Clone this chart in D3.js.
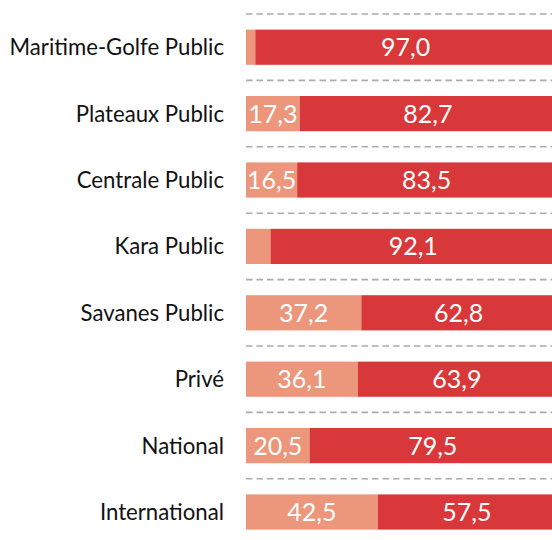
<!DOCTYPE html>
<html>
<head>
<meta charset="utf-8">
<script src="https://cdn.jsdelivr.net/npm/d3@7"></script>
<style>
  body { margin: 0; background: #fff; }
  svg { display: block; }
</style>
</head>
<body>
<div id="app"></div>
<script>
const categories = ["Maritime-Golfe Public", "Plateaux Public", "Centrale Public", "Kara Public",
  "Savanes Public", "Privé", "National", "International"];
const lowValues = [3.0, 17.3, 16.5, 7.9, 37.2, 36.1, 20.5, 42.5];
const highValues = [97.0, 82.7, 83.5, 92.1, 62.8, 63.9, 79.5, 57.5];
// small segments carry no label in the picture
const showLow = [false, true, true, false, true, true, true, true];

let width = 552,
  height = 540;

const colors = { low: "#ec967b", high: "#d9383a" },
  gridColor = "#ababab",
  fontFamily = "'Gill Sans', 'Lato', sans-serif";

const x = d3.scaleLinear().domain([0, 100]).range([246, 556]);
const y = d3.scaleBand()
  .domain(categories)
  .range([14, 545.2])
  .paddingInner(0.47)
  .paddingOuter(0.235);

const rows = categories.map((c, i) => ({
  name: c,
  low: lowValues[i],
  high: highValues[i],
  showLow: showLow[i]
}));

const svg = d3.select("#app")
  .append("svg")
  .attr("width", width)
  .attr("height", height);

// dashed separators above each row
const gap = y.step() * y.paddingInner() / 2;
svg.append("g")
  .selectAll("line")
  .data(rows)
  .join("line")
  .attr("x1", x(0))
  .attr("x2", width)
  .attr("y1", d => y(d.name) - gap)
  .attr("y2", d => y(d.name) - gap)
  .attr("stroke", gridColor)
  .attr("stroke-width", 1.6)
  .attr("stroke-dasharray", "6.5,4");

const row = svg.append("g")
  .selectAll("g")
  .data(rows)
  .join("g");

row.append("rect")
  .attr("x", x(0))
  .attr("y", d => y(d.name))
  .attr("width", d => x(d.low) - x(0))
  .attr("height", y.bandwidth())
  .attr("fill", colors.low);

row.append("rect")
  .attr("x", d => x(d.low))
  .attr("y", d => y(d.name))
  .attr("width", d => x(d.low + d.high) - x(d.low))
  .attr("height", y.bandwidth())
  .attr("fill", colors.high);

const fmt = v => d3.format(".1f")(v).replace(".", ",");

row.filter(d => d.showLow)
  .append("text")
  .attr("x", d => (x(0) + x(d.low)) / 2)
  .attr("y", d => y(d.name) + y.bandwidth() / 2)
  .attr("dy", "0.36em")
  .attr("text-anchor", "middle")
  .attr("fill", "#fff")
  .style("font-family", fontFamily)
  .style("font-size", "25px")
  .text(d => fmt(d.low));

row.append("text")
  .attr("x", d => (x(d.low) + x(d.low + d.high)) / 2)
  .attr("y", d => y(d.name) + y.bandwidth() / 2)
  .attr("dy", "0.36em")
  .attr("text-anchor", "middle")
  .attr("fill", "#fff")
  .style("font-family", fontFamily)
  .style("font-size", "25px")
  .text(d => fmt(d.high));

// category labels
row.append("text")
  .attr("x", 224)
  .attr("y", d => y(d.name) + y.bandwidth() / 2)
  .attr("dy", "0.36em")
  .attr("text-anchor", "end")
  .attr("fill", "#111")
  .style("font-family", fontFamily)
  .style("font-size", "22.2px")
  .text(d => d.name);
</script>
</body>
</html>
